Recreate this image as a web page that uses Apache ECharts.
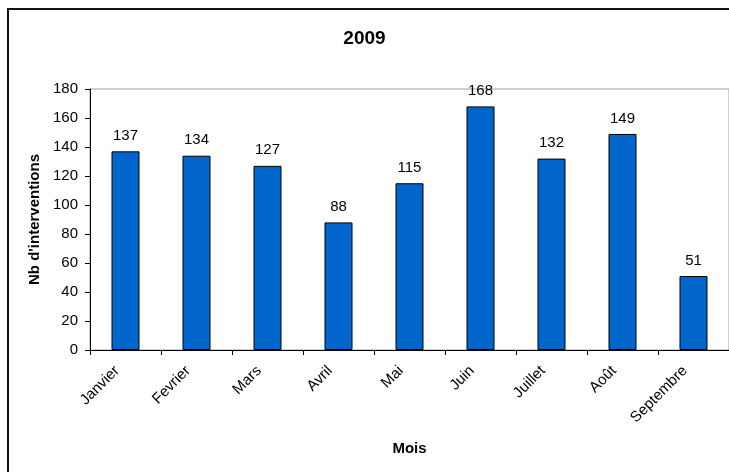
<!DOCTYPE html>
<html>
<head>
<meta charset="utf-8">
<script src="https://cdn.jsdelivr.net/npm/echarts@6/dist/echarts.min.js"></script>
<style>
  html, body { margin: 0; padding: 0; background: #fff; }
  #chart { width: 729px; height: 472px; }
</style>
</head>
<body>
<div id="chart"></div>
<script>
// Monthly intervention counts for 2009
const months = ['Janvier', 'Fevrier', 'Mars', 'Avril', 'Mai', 'Juin', 'Juillet', 'Août', 'Septembre'];
const interventions = [137, 134, 127, 88, 115, 168, 132, 149, 51];
const yTicks = { min: 0, max: 180, step: 20 };

const FONT = '"Liberation Sans", Arial, sans-serif';

const chart = echarts.init(document.getElementById('chart'), null, { renderer: 'canvas' });

chart.setOption({
  backgroundColor: '#ffffff',
  animation: false,
  title: {
    text: '2009',
    left: 'center',
    top: 24,
    textStyle: { fontFamily: FONT, fontSize: 19, fontWeight: 'bold', color: '#000' }
  },
  graphic: [{
    type: 'rect',
    shape: { x: 8, y: 9, width: 760, height: 500 },
    style: { fill: 'none', stroke: '#111', lineWidth: 2 },
    silent: true
  }],
  grid: {
    left: 90, right: -1, top: 89, bottom: 122,
    show: true, borderColor: '#a0a0a0', borderWidth: 1, backgroundColor: 'transparent'
  },
  xAxis: {
    type: 'category',
    data: months,
    name: 'Mois',
    nameLocation: 'middle',
    nameGap: 91,
    nameTextStyle: { fontFamily: FONT, fontSize: 15, fontWeight: 'bold', color: '#000' },
    axisLine: { lineStyle: { color: '#000', width: 1 } },
    axisTick: { show: true, length: 5, lineStyle: { color: '#000' } },
    axisLabel: {
      rotate: 45, interval: 0, margin: 10, padding: [0, 12, 0, 0],
      fontFamily: FONT, fontSize: 15, color: '#000'
    }
  },
  yAxis: {
    type: 'value',
    min: yTicks.min, max: yTicks.max, interval: yTicks.step,
    name: "Nb d'interventions",
    nameLocation: 'middle',
    nameGap: 47,
    nameTextStyle: { fontFamily: FONT, fontSize: 15, fontWeight: 'bold', color: '#000' },
    axisLine: { show: true, lineStyle: { color: '#000', width: 1 } },
    axisTick: { show: true, length: 5, lineStyle: { color: '#000' } },
    splitLine: { show: false },
    axisLabel: { margin: 12, fontFamily: FONT, fontSize: 15, color: '#000' }
  },
  series: [{
    type: 'bar',
    data: interventions,
    barWidth: 28,
    itemStyle: { color: '#0066CC', borderColor: '#000', borderWidth: 1 },
    label: {
      show: true, position: 'top', distance: 8,
      fontFamily: FONT, fontSize: 15, color: '#000'
    }
  }]
});
</script>
</body>
</html>
